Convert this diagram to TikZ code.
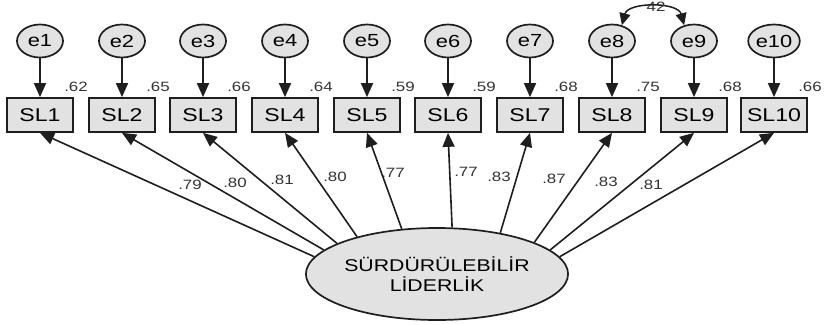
\documentclass[tikz,border=0pt]{standalone}
\usepackage{fontspec}
\setmainfont[FakeStretch=1.25]{Liberation Sans}
\usetikzlibrary{arrows.meta,shapes.geometric}
\definecolor{boxfill}{HTML}{E2E2E2}
\definecolor{linecol}{HTML}{1E1E1E}
\definecolor{numcol}{HTML}{333333}
\tikzset{
  errnode/.style={ellipse,draw=linecol,line width=1.7pt,fill=boxfill,minimum width=46pt,minimum height=33pt,inner sep=0pt,font=\fontsize{17.5}{19}\selectfont},
  obsbox/.style={rectangle,draw=linecol,line width=1.7pt,fill=boxfill,minimum width=66pt,minimum height=34pt,inner sep=0pt,font=\fontsize{18.5}{20}\selectfont},
  latent/.style={ellipse,draw=linecol,line width=1.7pt,fill=boxfill,minimum width=255pt,minimum height=92pt,inner sep=0pt,align=center,font=\fontsize{17}{19.5}\selectfont},
  arr/.style={draw=linecol,line width=1.6pt,-{Triangle[length=14pt,width=12pt]}},
  numlab/.style={text=numcol,font=\fontsize{13.5}{15}\selectfont,inner sep=0pt}
}
\begin{document}
\begin{tikzpicture}[x=1pt,y=-1pt]
\useasboundingbox (0,0) rectangle (826,324);
% latent
\node[latent] (L) at (437,274) {SÜRDÜRÜLEBİLİR\\LİDERLİK};
% error terms, observed boxes
\foreach \i/\x/\r in {1/40/.62,2/122/.65,3/203/.66,4/285/.64,5/367/.59,6/448/.59,7/530/.68,8/612/.75,9/694/.68,10/774/.66}{
  \node[errnode] (e\i) at (\x,41) {e\i};
  \node[obsbox] (SL\i) at (\x,115) {SL\i};
  \draw[arr] (e\i) -- (SL\i);
  \node[numlab] (r\i) at (\x+36,87) {\r};
}
% loadings
\draw[arr] (L.172) -- (SL1.south);
\draw[arr] (L.168) -- (SL2.south);
\draw[arr] (L.163) -- (SL3.south);
\draw[arr] (L.155) -- (SL4.south);
\draw[arr] (L.128) -- (SL5.south);
\draw[arr] (L.72) -- (SL6.south);
\draw[arr] (L.33) -- (SL7.south);
\draw[arr] (L.18) -- (SL8.south);
\draw[arr] (L.12) -- (SL9.south);
\draw[arr] (L.8) -- (SL10.south);
\node[numlab] (l1) at (190,185) {.79};
\node[numlab] (l2) at (235,183) {.80};
\node[numlab] (l3) at (282,180) {.81};
\node[numlab] (l4) at (335,177) {.80};
\node[numlab] (l5) at (393,173) {.77};
\node[numlab] (l6) at (466,172) {.77};
\node[numlab] (l7) at (499,177) {.83};
\node[numlab] (l8) at (554,179) {.87};
\node[numlab] (l9) at (606,182) {.83};
\node[numlab] (l10) at (651,185) {.81};
% covariance
\draw[draw=linecol,line width=1.5pt,{Triangle[length=12pt,width=11pt]}-{Triangle[length=12pt,width=11pt]}] (e8.58) to[out=75,in=105] (e9.122);
\node[numlab] (c89) at (656,7) {42};
\end{tikzpicture}
\end{document}
